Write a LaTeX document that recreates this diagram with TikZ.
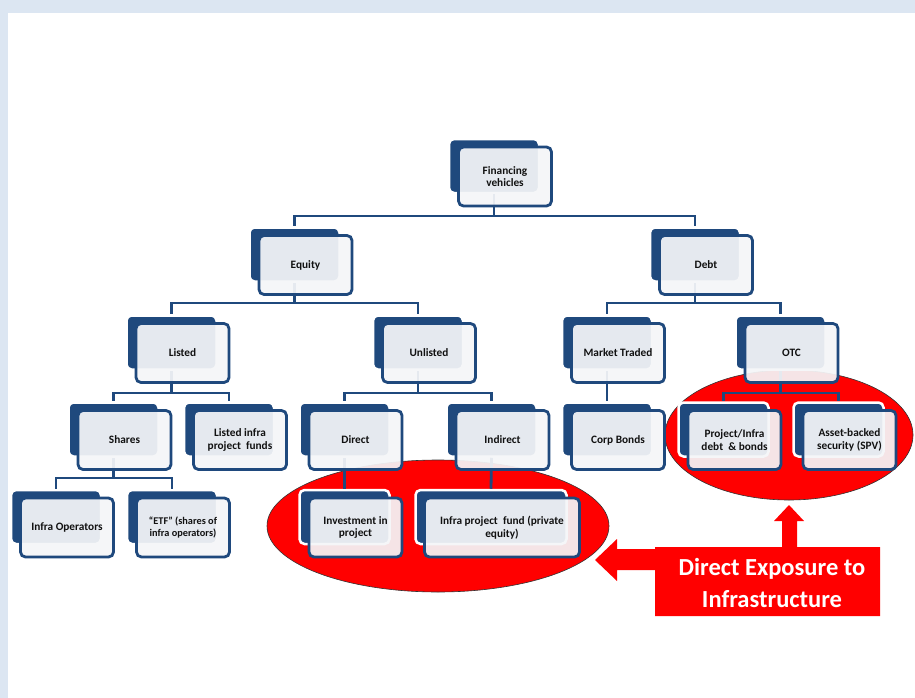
\documentclass[tikz,border=0pt]{standalone}
\usepackage{fontspec}
\setmainfont{Carlito}
\definecolor{dblue}{HTML}{1F497D}
\definecolor{fgray}{HTML}{F5F6F8}
\definecolor{bgblue}{HTML}{DCE6F2}
\definecolor{txt}{HTML}{111111}
\definecolor{bigred}{HTML}{FF0000}
\tikzset{
  backbox/.style={rectangle, rounded corners=5pt, fill=dblue, draw=white, line width=2.5pt,
    minimum width=90pt, minimum height=54pt, inner sep=0pt},
  frontbox/.style={rectangle, rounded corners=5pt, fill=fgray, fill opacity=0.93, text opacity=1,
    draw=dblue, draw opacity=1, line width=2.8pt, minimum width=93pt, minimum height=59pt,
    align=center, font=\fontsize{11.3}{12.8}\selectfont\bfseries, text=txt, inner sep=1pt},
  conn/.style={draw=dblue, line width=2.8pt},
  redoval/.style={fill=bigred, draw=black!80, line width=0.6pt},
  exptext/.style={align=center, text=white, font=\fontsize{24.5}{32}\selectfont\bfseries, inner sep=0pt},
}
\newcommand\bbx[4][]{\node[backbox,#1] (#2b) at (#3,#4) {};}
\newcommand\fbx[5][]{\node[frontbox,#1] (#2) at (#3+11,#4+10.5) {#5};}
\begin{document}
\begin{tikzpicture}[x=1pt,y=-1pt]
\useasboundingbox (0,0) rectangle (915,698);
\fill[white] (0,0) rectangle (915,698);
\fill[bgblue] (0,0) rectangle (915,13);
\fill[bgblue] (0,0) rectangle (8,698);
% red ovals
\draw[redoval] (438,526) ellipse [x radius=171pt, y radius=66pt];
\draw[redoval] (789,435) ellipse [x radius=124pt, y radius=65pt];
% back boxes
\bbx{fin}{494}{166}
\bbx{eq}{294.5}{254.5}
\bbx{debt}{695}{254.5}
\bbx{lst}{171.5}{342.5}
\bbx{unl}{418}{342.5}
\bbx{mkt}{607}{342.5}
\bbx{otc}{780.5}{342.5}
\bbx{shr}{113.5}{429.5}
\bbx{lif}{229}{429.5}
\bbx{dir}{344.5}{429.5}
\bbx{ind}{491.5}{429.5}
\bbx{corp}{607}{429.5}
\bbx{proj}{723.5}{429.5}
\bbx{abs}{838.5}{429.5}
\bbx{iop}{56}{517}
\bbx{etf}{172}{517}
\bbx{inv}{344.5}{517}
\bbx[minimum width=151pt]{ipf}{491}{517}
% bus coordinates
\coordinate (bus1) at (0,216);
\coordinate (bus2) at (0,303);
\coordinate (bus3) at (0,393);
\coordinate (bus4) at (0,478);
% connectors
\draw[conn] (finb.south) -- (finb.south |- bus1) -| (eqb.north);
\draw[conn] (finb.south |- bus1) -| (debtb.north);
\draw[conn] (eqb.south) -- (eqb.south |- bus2) -| (lstb.north);
\draw[conn] (eqb.south |- bus2) -| (unlb.north);
\draw[conn] (debtb.south) -- (debtb.south |- bus2) -| (mktb.north);
\draw[conn] (debtb.south |- bus2) -| (otcb.north);
\draw[conn] (lstb.south) -- (lstb.south |- bus3) -| (shrb.north);
\draw[conn] (lstb.south |- bus3) -| (lifb.north);
\draw[conn] (unlb.south) -- (unlb.south |- bus3) -| (dirb.north);
\draw[conn] (unlb.south |- bus3) -| (indb.north);
\draw[conn] (mktb.south) -- (corpb.north);
\draw[conn] (otcb.south) -- (otcb.south |- bus3) -| (projb.north);
\draw[conn] (otcb.south |- bus3) -| (absb.north);
\draw[conn] (shrb.south) -- (shrb.south |- bus4) -| (iopb.north);
\draw[conn] (shrb.south |- bus4) -| (etfb.north);
\draw[conn] (dirb.south) -- (invb.north);
\draw[conn] (indb.south) -- (ipfb.north);
% front boxes
\fbx{fin}{494}{166}{Financing\\vehicles}
\fbx{eq}{294.5}{254.5}{Equity}
\fbx{debt}{695}{254.5}{Debt}
\fbx{lst}{171.5}{342.5}{Listed}
\fbx{unl}{418}{342.5}{Unlisted}
\fbx{mkt}{607}{342.5}{Market Traded}
\fbx{otc}{780.5}{342.5}{OTC}
\fbx{shr}{113.5}{429.5}{Shares}
\fbx{lif}{229}{429.5}{Listed infra\\project\ \ funds}
\fbx{dir}{344.5}{429.5}{Direct}
\fbx{ind}{491.5}{429.5}{Indirect}
\fbx{corp}{607}{429.5}{Corp Bonds}
\fbx{proj}{723.5}{429.5}{Project/Infra\\debt\ \ \& bonds}
\fbx{abs}{838.5}{429.5}{Asset-backed\\security (SPV)}
\fbx{iop}{56}{517}{Infra Operators}
\fbx[font=\fontsize{10.3}{12.8}\selectfont\bfseries]{etf}{172}{517}{“ETF” (shares of\\infra operators)}
\fbx{inv}{344.5}{517}{Investment in\\project}
\fbx[minimum width=155pt]{ipf}{491}{517}{Infra project\ \ fund (private\\equity)}
% callout
\fill[bigred] (655,547) -- (782,547) -- (782,521) -- (774,521) -- (789,505) -- (804,521)
  -- (797,521) -- (797,547) -- (880,547) -- (880,616) -- (655,616) -- (655,570)
  -- (617,570) -- (617,581) -- (595,560) -- (617,539) -- (617,549) -- (655,549) -- cycle;
\node[exptext] (exp) at (772,583) {Direct Exposure to\\Infrastructure};
\end{tikzpicture}
\end{document}
